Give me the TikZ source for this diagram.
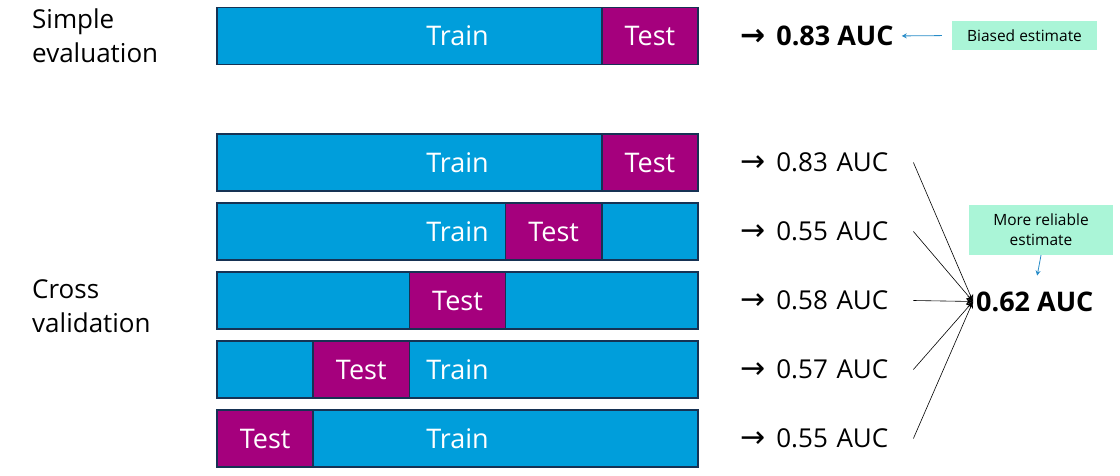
\documentclass[tikz,border=0pt]{standalone}
\usepackage{fontspec}
\setmainfont{Open Sans}
\newfontfamily\arrowfont{DejaVu Sans}
\usetikzlibrary{positioning,arrows.meta}

\definecolor{trainblue}{RGB}{0,158,219}
\definecolor{testpink}{RGB}{165,0,125}
\definecolor{edge}{RGB}{22,50,84}
\definecolor{mint}{RGB}{170,245,215}
\definecolor{notearrow}{RGB}{40,140,200}

\newcommand\sendto{{\arrowfont\fontsize{30}{30}\selectfont →}\hspace{11pt}}

\tikzset{
	bar/.style={draw=edge, line width=1.5pt, fill=trainblue, text=white, minimum width=481, minimum height=57, inner sep=0pt, font=\fontsize{27}{30}\selectfont},
	testbox/.style={bar, fill=testpink, minimum width=96.2},
	side/.style={anchor=west, align=left, inner sep=0pt, font=\fontsize{26}{34}\selectfont},
	auc/.style={anchor=west, inner sep=0pt, font=\fontsize{26}{30}\selectfont},
	bigauc/.style={auc, font=\bfseries\fontsize{27}{30}\selectfont},
	note/.style={fill=mint, align=center, inner sep=0pt, font=\fontsize{15.5}{20}\selectfont},
	notearr/.style={-{Stealth[length=5pt,width=5pt]}, notearrow, line width=0.8pt},
	link/.style={-{Stealth[length=7pt,width=6pt]}, line width=0.6pt},
}

\begin{document}
\begin{tikzpicture}[x=1pt,y=-1pt]
		\useasboundingbox (0,0) rectangle (1120,476);
		\pgfmathsetmacro\seg{481/5}
		% simple evaluation
		\node[side] (simple) at (32,36) {Simple\\evaluation};
		\node[bar] (split) at (457.5,36) {Train};
		\node[testbox, anchor=east] (held) at (split.east) {Test};
		\node[bigauc] (single) at (740,36) {\sendto 0.83 AUC};
		\node[note, minimum width=145, minimum height=29] (biased) at (1024.5,35.5) {Biased estimate};
		\draw[notearr, shorten <=10pt, shorten >=8pt] (biased.west) -- (single.east);
		% cross validation
		\node[side] (cross) at (32,306) {Cross\\validation};
		\node[bigauc, inner sep=3pt] (mean) at (973,301.5) {0.62 AUC};
		\foreach \v/\lab [count=\i] in {0.83/Train,0.55/Train,0.58/,0.57/Train,0.55/Train}{
			\pgfmathsetmacro\yy{162.5+69*(\i-1)}
			\node[bar] (fold\i) at (457.5,\yy) {\lab};
			\node[testbox, anchor=west] (test\i) at ([xshift={(5-\i)*\seg}]fold\i.west) {Test};
			\node[auc, text width=173] (score\i) at (740,\yy) {\sendto \v\ AUC};
			\draw[link] (score\i.east) -- (mean.west);
		}
		\node[note, minimum width=144, minimum height=50] (reliable) at (1041,230) {More reliable\\estimate};
		\draw[notearr, shorten >=13pt] (reliable.south) -- (mean.north);
		
\end{tikzpicture}
\end{document}
